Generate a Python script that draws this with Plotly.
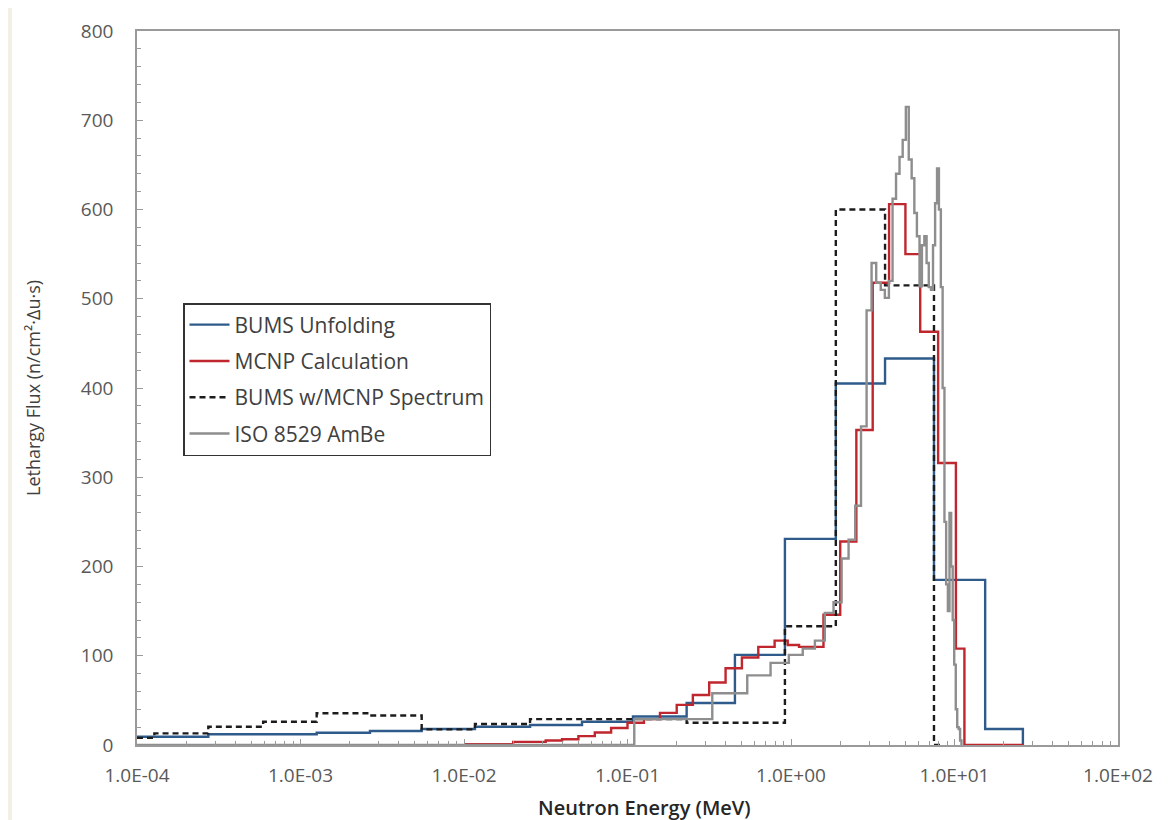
import plotly.graph_objects as go

# ---------------- data (energy bin edges in MeV, lethargy flux per bin) ----------------
blue_edges = [1.0e-4, 2.73e-4, 1.256e-3, 2.66e-3, 5.51e-3, 1.167e-2, 2.535e-2, 5.27e-2,
              0.108, 0.230, 0.454, 0.918, 1.88, 3.76, 7.49, 15.4, 26.2]
blue_flux = [9.3, 12, 13.8, 15.7, 18, 20.5, 22.4, 26, 32, 47, 101, 231, 405, 433, 185, 18]

red_edges = [0.01, 0.02, 0.0316, 0.0398, 0.0501, 0.0631, 0.0794, 0.1, 0.126, 0.158, 0.2,
             0.251, 0.316, 0.398, 0.501, 0.631, 0.794, 0.955, 1.12, 1.58, 2.0, 2.51, 3.16,
             3.98, 5.01, 6.17, 7.94, 10.2, 11.5, 26.2]
red_flux = [1, 3.5, 5, 6.5, 10, 14, 19, 25, 29, 36, 45, 56, 70, 86, 98, 110, 117, 112, 110,
            146, 228, 353, 518, 606, 550, 463, 316, 108, 0]

dash_edges = [1.0e-4, 1.277e-4, 2.73e-4, 5.91e-4, 1.256e-3, 2.66e-3, 5.51e-3, 1.167e-2,
              2.535e-2, 0.230, 0.918, 1.88, 3.76, 7.49, 8.6]
dash_flux = [8, 13, 20.5, 26, 35.5, 33, 17.5, 23.5, 29, 25, 133, 600, 515, 0]

iso_edges = [1e-4, 0.11, 0.33, 0.54, 0.75, 0.97, 1.18, 1.40, 1.61, 1.82, 2.04, 2.25, 2.47,
             2.68, 2.90, 3.11, 3.32, 3.54, 3.75, 3.97, 4.18, 4.39, 4.61, 4.82, 5.04, 5.25,
             5.47, 5.68, 5.89, 6.11, 6.32, 6.54, 6.75, 6.96, 7.18, 7.39, 7.61, 7.82, 8.03,
             8.25, 8.46, 8.68, 8.89, 9.11, 9.32, 9.54, 9.75, 9.96, 10.18, 10.39, 10.61,
             10.82, 11.03]
iso_flux = [0, 29, 58, 78, 92, 101, 108, 117, 148, 160, 209, 230, 268, 357, 487, 540, 518,
            510, 501, 520, 612, 640, 659, 678, 715, 656, 635, 596, 570, 514, 560, 570, 540,
            513, 510, 560, 607, 646, 600, 513, 400, 250, 180, 150, 260, 200, 140, 90, 40,
            20, 18, 5]

series_names = ["BUMS Unfolding", "MCNP Calculation", "BUMS w/MCNP Spectrum", "ISO 8529 AmBe"]
tick_vals = [1e-4, 1e-3, 1e-2, 1e-1, 1e0, 1e1, 1e2]
tick_text = ["1.0E-04", "1.0E-03", "1.0E-02", "1.0E-01", "1.0E+00", "1.0E+01", "1.0E+02"]

# --------------------------------------------------------------------------------------
FONT = "Open Sans"
W, H = 1173, 820
OFF = 8                      # page body margin of the browser
L, T = 137 - OFF, 31 - OFF   # plot-area left/top in figure pixels
PR, PB = 1118 - OFF, 745 - OFF
R, B = W - PR, H - PB
pw, ph = PR - L, PB - T


def px(xs):  # screen x -> paper
    return (xs - OFF - L) / pw


def py(ys):  # screen y -> paper
    return (PB - (ys - OFF)) / ph


def step(edges, vals):
    assert len(edges) == len(vals) + 1
    return list(edges), list(vals) + [0]


fig = go.Figure()
styles = [
    dict(color="#2e5b8a", width=2.4),
    dict(color="#c0262d", width=2.4),
    dict(color="#1c1c1c", width=2.4, dash="6px,4px"),
    dict(color="#8e8e8e", width=2.4),
]
data = [(blue_edges, blue_flux), (red_edges, red_flux), (dash_edges, dash_flux),
        (iso_edges, iso_flux)]
for i, ((e, v), name, st) in enumerate(zip(data, series_names, styles)):
    x, y = step(e, v)
    fig.add_trace(go.Scatter(x=x, y=y, mode="lines", line_shape="hv", name=name,
                             line=st, legendgroup=f"g{i}", hoverinfo="skip"))

minor_x = [m * 10.0 ** k for k in range(-4, 2) for m in range(2, 10)]

axis_col = "#9a9a9a"
tick_font = dict(family=FONT, size=19, color="#595959")
fig.update_xaxes(type="log", range=[-4, 2], tickvals=tick_vals, ticktext=tick_text,
                 showline=True, linecolor=axis_col, linewidth=1.5, mirror=True,
                 ticks="inside", ticklen=6, tickcolor=axis_col, showgrid=False,
                 zeroline=False, ticklabelstandoff=12, tickfont=tick_font,
                 minor=dict(tickvals=minor_x, ticks="inside", ticklen=4, tickcolor=axis_col,
                            showgrid=False))
fig.update_yaxes(range=[0, 800], dtick=100, showline=True, linecolor=axis_col, linewidth=1.5,
                 mirror=True, ticks="inside", ticklen=6, tickcolor=axis_col, showgrid=False,
                 zeroline=False, ticklabelstandoff=18, tickfont=tick_font,
                 minor=dict(dtick=20, ticks="inside", ticklen=4, tickcolor=axis_col,
                            showgrid=False))

# beige frame strip at the left edge of the page
bg = "#f2efe7"
fig.add_shape(type="rect", xref="paper", yref="paper", layer="below",
              x0=px(8), x1=px(12), y0=py(830), y1=py(8),
              fillcolor=bg, line_width=0)

fig.add_annotation(text="Lethargy Flux (n/cm²·Δu·s)", xref="paper", yref="paper",
                   x=px(33), y=py(388), textangle=-90, showarrow=False,
                   xanchor="center", yanchor="middle",
                   font=dict(family=FONT, size=18, color="#404040"))
fig.add_annotation(text="Neutron Energy (MeV)", xref="paper", yref="paper",
                   x=px(644), y=py(808), showarrow=False, xanchor="center", yanchor="middle",
                   font=dict(family=FONT, size=20, color="#262626", weight=600))

fig.update_layout(
    width=W, height=H, margin=dict(l=L, r=R, t=T, b=B, autoexpand=False),
    paper_bgcolor="white", plot_bgcolor="white",
    showlegend=True,
    legend=dict(x=px(183), y=py(303), xanchor="left", yanchor="top",
                bordercolor="#333333", borderwidth=1.5, bgcolor="white",
                font=dict(family=FONT, size=21, color="#404040"),
                tracegroupgap=6, itemwidth=40, traceorder="grouped"),
)

fig.write_html("out.html")
